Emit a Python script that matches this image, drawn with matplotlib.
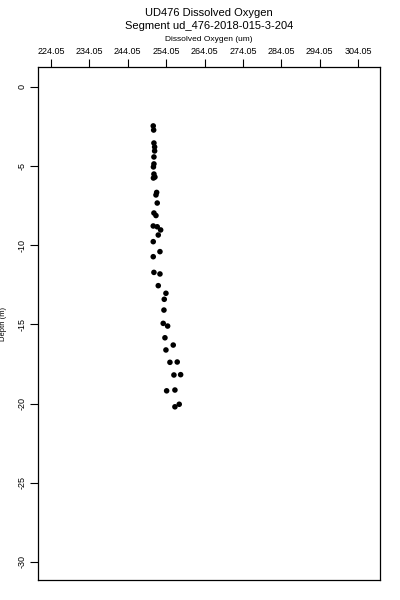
import matplotlib
matplotlib.use("Agg")
import matplotlib.pyplot as plt

# dissolved oxygen (um) vs depth (m)
oxygen = [250.69, 250.80, 250.87, 251.05, 251.05, 250.87, 250.87, 250.74, 250.87, 250.74,
          251.13, 251.58, 251.40, 251.73, 250.87, 251.40, 250.69, 251.73, 252.62, 252.00,
          250.69, 252.44, 250.69, 250.87, 252.44, 252.00, 254.00, 253.56, 253.48, 253.29,
          254.44, 253.74, 255.90, 254.00, 255.04, 256.94, 256.08, 257.83, 254.18, 256.34,
          256.34, 257.46]
depth = [-2.46, -2.72, -3.54, -3.79, -4.04, -4.42, -4.86, -5.05, -5.50, -5.75,
         -5.69, -6.66, -6.82, -7.33, -7.96, -8.12, -8.78, -8.83, -9.03, -9.35,
         -9.77, -10.40, -10.72, -11.71, -11.81, -12.55, -13.03, -13.41, -14.09, -14.93,
         -15.10, -15.84, -16.30, -16.61, -17.39, -17.37, -18.19, -18.17, -19.19, -19.14,
         -20.20, -20.04]

x_ticks = [224.05, 234.05, 244.05, 254.05, 264.05, 274.05, 284.05, 294.05, 304.05]
y_ticks = [0, -5, -10, -15, -20, -25, -30]

plt.rcParams['font.family'] = ['Liberation Sans', 'DejaVu Sans']

fig = plt.figure(figsize=(4, 6), dpi=100)
ax = fig.add_axes([0.095, 0.0333, 0.855, 0.855])

ax.scatter(oxygen, depth, s=16, c='black', edgecolors='none')

ax.set_xlim(220.66, 309.78)
ax.set_ylim(-31.14, 1.26)

ax.xaxis.tick_top()
ax.xaxis.set_label_position('top')
ax.set_xticks(x_ticks)
ax.set_xticklabels([f"{v:.2f}" for v in x_ticks])
ax.set_yticks(y_ticks)
ax.set_yticklabels([str(v) for v in y_ticks], rotation=90, va='center')
ax.tick_params(axis='both', direction='out', length=6, width=0.8, labelsize=6.5, pad=2)

for sp in ax.spines.values():
    sp.set_linewidth(0.9)

ax.set_xlabel("Dissolved Oxygen (um)", fontsize=6, labelpad=4)
ax.set_ylabel("Depth (m)", fontsize=5.5)
ax.yaxis.set_label_coords(-0.09, 0.5)

fig.text(0.5225, 0.978, "UD476 Dissolved Oxygen", ha='center', va='center', fontsize=8)
fig.text(0.5225, 0.957, "Segment ud_476-2018-015-3-204", ha='center', va='center', fontsize=8)

fig.savefig("out.png", dpi=100)
